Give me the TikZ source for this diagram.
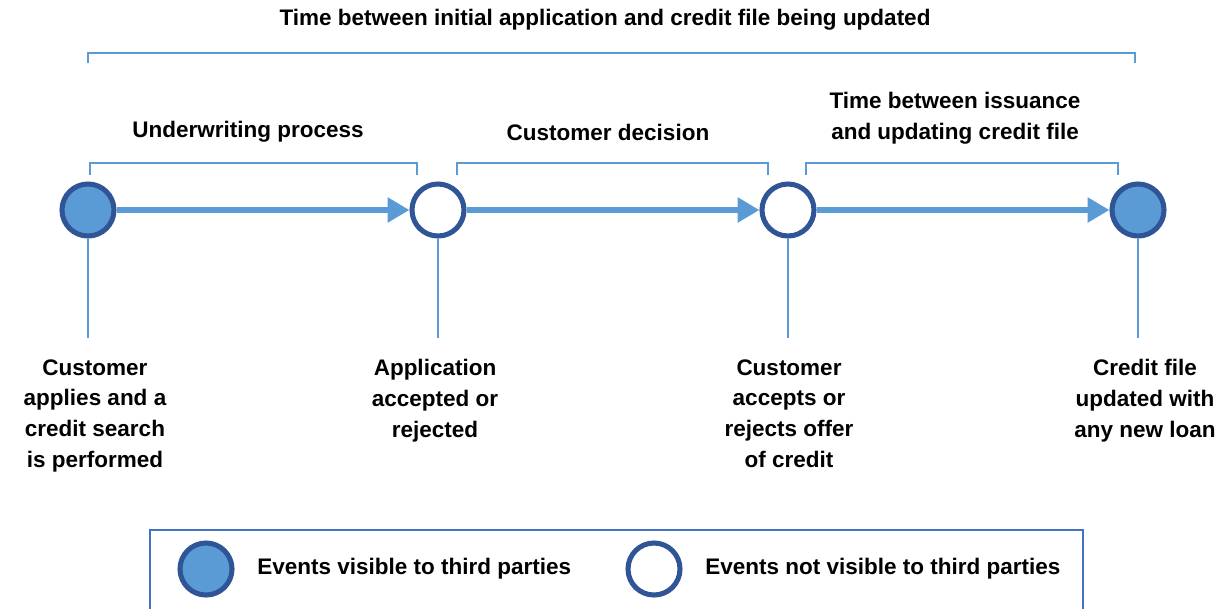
\documentclass[tikz,border=0pt]{standalone}
\usepackage{fontspec}
\setmainfont{Liberation Sans}
\usetikzlibrary{arrows.meta,positioning}
\definecolor{evfill}{HTML}{5B9BD5}
\definecolor{evline}{HTML}{2F5597}
\definecolor{boxline}{HTML}{4472C4}

\begin{document}
\begin{tikzpicture}[x=0.025cm,y=-0.025cm,
  font=\fontsize{16}{22}\selectfont\bfseries,
  event/.style={circle,draw=evline,line width=3.6pt,minimum size=1.3cm,inner sep=0pt},
  visible/.style={event,fill=evfill},
  hidden/.style={event,fill=white},
  flow/.style={evfill,line width=4.2pt,-{Triangle[length=15.5pt,width=17pt]}},
  span/.style={evfill,line width=1.4pt},
  lbl/.style={align=center,anchor=north,inner sep=0pt}]
  \useasboundingbox (0,0) rectangle (1215,608);
  % periods above the time line
  \draw[span] (88,63) |- (1135,53) -- (1135,63);
  \node (ttotal) at (605,20) {Time between initial application and credit file being updated};
  \draw[span] (90,175) |- (417,163) -- (417,175);
  \node (tunder) at (248,132) {Underwriting process};
  \draw[span] (457,175) |- (768,163) -- (768,175);
  \node (tdecide) at (608,132) {Customer decision};
  \draw[span] (806,175) |- (1118,163) -- (1118,175);
  \node[align=center] (tupdate) at (955,118) {Time between issuance\\and updating credit file};
  % events along the time line
  \node[visible] (e1) at (88,210) {};
  \node[hidden] (e2) at (438,210) {};
  \node[hidden] (e3) at (788,210) {};
  \node[visible] (e4) at (1138,210) {};
  \draw[flow] (e1) -- (e2);
  \draw[flow] (e2) -- (e3);
  \draw[flow] (e3) -- (e4);
  % drop lines and event texts
  \foreach \i/\x in {1/88,2/438,3/788,4/1138}{
    \coordinate (d\i) at (\x,338);
    \draw[span] (e\i) -- (d\i);
  }
  \node[lbl] (l1) at (95,359) {Customer\\applies and a\\credit search\\is performed};
  \node[lbl] (l2) at (435,359) {Application\\accepted or\\rejected};
  \node[lbl] (l3) at (789,359) {Customer\\accepts or\\rejects offer\\of credit};
  \node[lbl] (l4) at (1145,359) {Credit file\\updated with\\any new loan};
  % key
  \draw[boxline,line width=1.4pt] (150,530) rectangle (1083,640);
  \node[visible] (kvis) at (206,569) {};
  \node[anchor=west,inner sep=0pt] (kvistext) at (257,569) {Events visible to third parties};
  \node[hidden] (khid) at (654,569) {};
  \node[anchor=west,inner sep=0pt] (khidtext) at (705,569) {Events not visible to third parties};
\end{tikzpicture}
\end{document}
